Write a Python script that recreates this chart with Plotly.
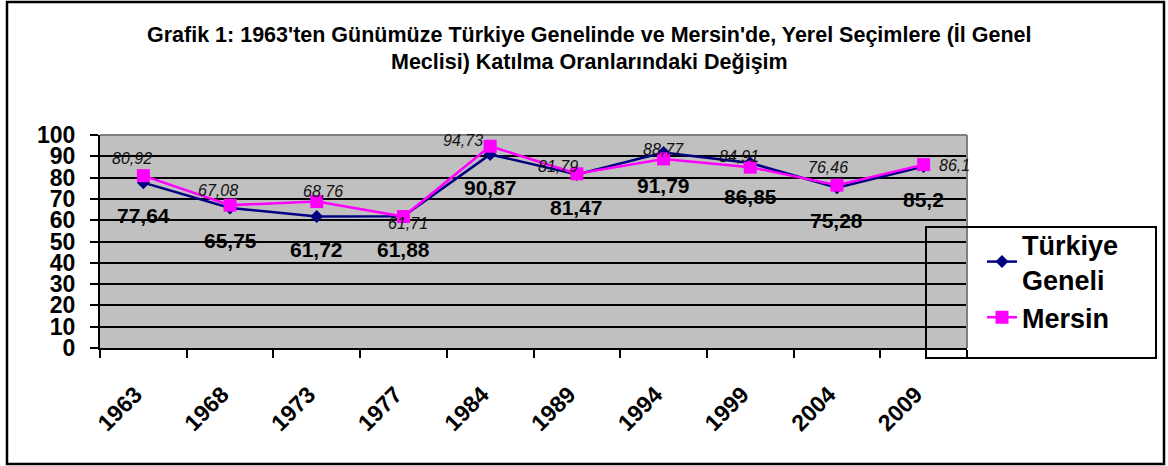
import plotly.graph_objects as go

# ---- data ----
years = ["1963", "1968", "1973", "1977", "1984", "1989", "1994", "1999", "2004", "2009"]
turkiye = [77.64, 65.75, 61.72, 61.88, 90.87, 81.47, 91.79, 86.85, 75.28, 85.2]
mersin = [80.92, 67.08, 68.76, 61.71, 94.73, 81.79, 88.77, 84.91, 76.46, 86.1]
y_ticks = list(range(0, 101, 10))
series_names = ["Türkiye<br>Geneli", "Mersin"]
title_lines = [
    "Grafik 1: 1963'ten Günümüze Türkiye Genelinde ve Mersin'de, Yerel Seçimlere (İl Genel",
    "Meclisi) Katılma Oranlarındaki Değişim",
]

# ---- label placement (style, px) ----
mersin_dx = [-11, -12, 6, 5, -27, -19, 0, -11, -9, 31]
mersin_dy = [17, 15, 10, -7, 6, 7, 9, 11, 18, -1]

W, H = 1168, 466
L, R, T, B = 100, 967, 135, 348
FONT = "Arial, Liberation Sans, sans-serif"


def px(x):
    return (x - L) / (R - L)


def py(y):
    return (B - y) / (B - T)


def fmt(v):
    s = f"{v:.2f}".rstrip("0").rstrip(".")
    return s.replace(".", ",")


fig = go.Figure()
fig.add_trace(go.Scatter(
    x=years, y=turkiye, name=series_names[0], mode="lines+markers",
    line=dict(color="#000080", width=2.5),
    marker=dict(symbol="diamond", size=10, color="#000080"),
))
fig.add_trace(go.Scatter(
    x=years, y=mersin, name=series_names[1], mode="lines+markers",
    line=dict(color="#FF00FF", width=2.5),
    marker=dict(symbol="square", size=13, color="#FF00FF"),
))

ann = []
for i, v in enumerate(turkiye):
    ann.append(dict(x=i, y=v, xref="x", yref="y", text=fmt(v), showarrow=False,
                    yshift=-33, font=dict(family=FONT, size=21, color="black", weight="bold")))
for i, (v, dx, dy) in enumerate(zip(mersin, mersin_dx, mersin_dy)):
    ann.append(dict(x=i, y=v, xref="x", yref="y", text=fmt(v), showarrow=False,
                    xshift=dx, yshift=dy,
                    font=dict(family=FONT, size=16, color="#111111", style="italic")))
for i, line in enumerate(title_lines):
    ann.append(dict(x=px(589), y=py(35 + 27 * i), xref="paper", yref="paper", text=line,
                    showarrow=False, xanchor="center", yanchor="middle",
                    font=dict(family=FONT, size=21.5, color="black", weight="bold")))

shapes = [
    # hide gridlines behind legend
    dict(type="rect", xref="paper", yref="paper", x0=px(926), x1=1.0, y0=0, y1=py(227),
         fillcolor="#C0C0C0", line=dict(width=0), layer="between"),
    # gray plot-area border top / right
    dict(type="line", xref="paper", yref="paper", x0=0, x1=1, y0=1, y1=1,
         line=dict(color="#808080", width=2), layer="above"),
    dict(type="line", xref="paper", yref="paper", x0=1, x1=1, y0=0, y1=1,
         line=dict(color="#808080", width=2), layer="above"),
    # legend box
    dict(type="rect", xref="paper", yref="paper", x0=px(926), x1=px(1156), y0=py(358), y1=py(227),
         line=dict(color="black", width=2), fillcolor="rgba(0,0,0,0)", layer="above"),
    # outer frame
    dict(type="rect", xref="paper", yref="paper", x0=px(7), x1=px(1164), y0=py(464), y1=py(2),
         line=dict(color="black", width=2.5), fillcolor="rgba(0,0,0,0)", layer="above"),
]

fig.update_layout(
    width=W, height=H,
    margin=dict(l=L, r=W - R, t=T, b=H - B, pad=0),
    paper_bgcolor="white", plot_bgcolor="#C0C0C0",
    font=dict(family=FONT, color="black"),
    showlegend=True,
    legend=dict(x=px(982), y=py(220), xanchor="left", yanchor="top",
                bgcolor="rgba(0,0,0,0)", borderwidth=0,
                font=dict(family=FONT, size=27, color="black", weight="bold"),
                tracegroupgap=0),
    annotations=ann,
    shapes=shapes,
    xaxis=dict(type="category", categoryorder="array", categoryarray=years,
               range=[-0.5, len(years) - 0.5],
               showgrid=False, zeroline=False,
               showline=True, linecolor="black", linewidth=2,
               ticks="outside", tickson="boundaries", ticklen=8, tickwidth=2, tickcolor="black",
               tickangle=-45, ticklabelstandoff=22, ticklabelshift=-8,
               tickfont=dict(family=FONT, size=23, color="black", weight="bold")),
    yaxis=dict(range=[0, 100], tickvals=y_ticks, ticktext=[str(t) for t in y_ticks],
               showgrid=True, gridcolor="black", gridwidth=2,
               zeroline=False,
               showline=True, linecolor="black", linewidth=2,
               ticks="outside", ticklen=8, tickwidth=2, tickcolor="black",
               ticklabelstandoff=10,
               tickfont=dict(family=FONT, size=23, color="black", weight="bold")),
)

fig.write_html("out.html", config={"displayModeBar": False},
               post_script="document.body.style.margin='0';document.body.style.overflow='hidden';")
